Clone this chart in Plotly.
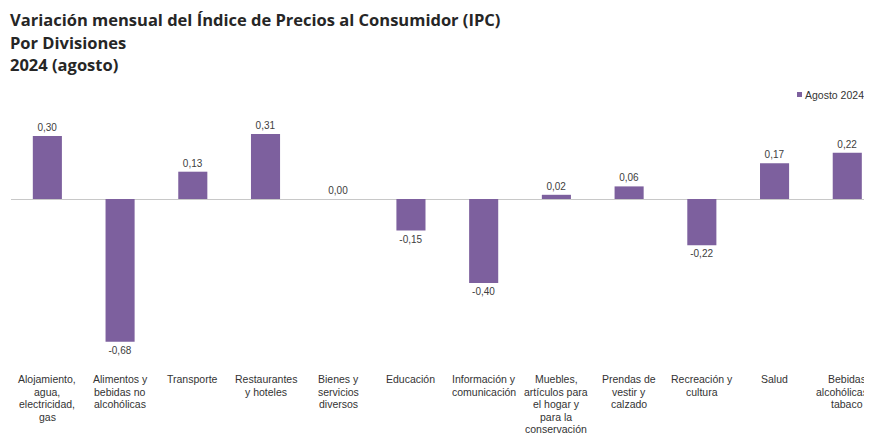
import plotly.graph_objects as go

categories = [
    "Alojamiento,<br>agua,<br>electricidad,<br>gas",
    "Alimentos y<br>bebidas no<br>alcohólicas",
    "Transporte",
    "Restaurantes<br>y hoteles",
    "Bienes y<br>servicios<br>diversos",
    "Educación",
    "Información y<br>comunicación",
    "Muebles,<br>artículos para<br>el hogar y<br>para la<br>conservación",
    "Prendas de<br>vestir y<br>calzado",
    "Recreación y<br>cultura",
    "Salud",
    "Bebidas<br>alcohólicas<br>tabaco",
]
values = [0.30, -0.68, 0.13, 0.31, 0.00, -0.15, -0.40, 0.02, 0.06, -0.22, 0.17, 0.22]
series_name = "Agosto 2024"
title_lines = [
    "Variación mensual del Índice de Precios al Consumidor (IPC)",
    "Por Divisiones",
    "2024 (agosto)",
]

# page body has an 8px margin, so the figure is 8px smaller
W, H = 864, 427
L, R, T, B = 3, 0, 102, 70
plot_h = H - T - B
plot_w = W - L - R
ZERO_PX = 191
PX_PER_UNIT = 210

BAR_COLOR = "#7d609e"
TXT_FONT = "Liberation Sans, Arial, sans-serif"

labels = [f"{v:.2f}".replace(".", ",") for v in values]
xs = list(range(len(categories)))

def py(y_px):
    return (H - B - y_px) / plot_h

def px(x_px):
    return (x_px - L) / plot_w

fig = go.Figure()
fig.add_trace(go.Bar(
    x=xs, y=values, name=series_name,
    marker=dict(color=BAR_COLOR, line=dict(width=0)),
    width=0.40,
    text=labels, textposition="outside", cliponaxis=False,
    textfont=dict(family=TXT_FONT, size=10, color="#404040"),
    showlegend=False,
))

# title
for txt, yp in zip(title_lines, [12, 34.5, 57]):
    fig.add_annotation(
        text=f"<b>{txt}</b>", xref="paper", yref="paper",
        x=px(0), y=py(yp), xanchor="left", yanchor="middle",
        showarrow=False,
        font=dict(family="Open Sans, Noto Sans, sans-serif", size=16.5, color="#262626"),
    )

# category labels, line by line
n_cat = len(categories)
for xi, cat in zip(xs, categories):
    lines = cat.split("<br>")
    for li, line in enumerate(lines):
        shift = -5 if (xi == n_cat - 1 and len(line) > 8) else 0
        fig.add_annotation(
            text=line, xref="x", yref="paper",
            x=xi, y=py(371 + 12.5 * li), xanchor="center", yanchor="middle",
            xshift=shift, showarrow=False,
            font=dict(family=TXT_FONT, size=10.5, color="#333333"),
        )

# legend
fig.add_shape(type="rect", xref="paper", yref="paper",
              x0=px(789), x1=px(794), y0=py(89), y1=py(84),
              fillcolor=BAR_COLOR, line=dict(width=0))
fig.add_annotation(
    text=series_name, xref="paper", yref="paper",
    x=px(795), y=py(86.5), xanchor="left", yanchor="middle", showarrow=False,
    font=dict(family=TXT_FONT, size=10.5, color="#333333"),
)

fig.update_layout(
    width=W, height=H,
    margin=dict(l=L, r=R, t=T, b=B, autoexpand=False),
    paper_bgcolor="white", plot_bgcolor="white",
    xaxis=dict(
        range=[-0.5, 11.34], tickmode="array", tickvals=xs, showticklabels=False,
        showgrid=False, zeroline=False, showline=False, ticks="",
    ),
    yaxis=dict(
        range=[-(H - B - ZERO_PX) / PX_PER_UNIT, (ZERO_PX - T) / PX_PER_UNIT],
        showgrid=False, showticklabels=False, ticks="",
        zeroline=True, zerolinecolor="#c8c8c8", zerolinewidth=1, showline=False,
    ),
    showlegend=False,
)

fig.write_html("out.html")
